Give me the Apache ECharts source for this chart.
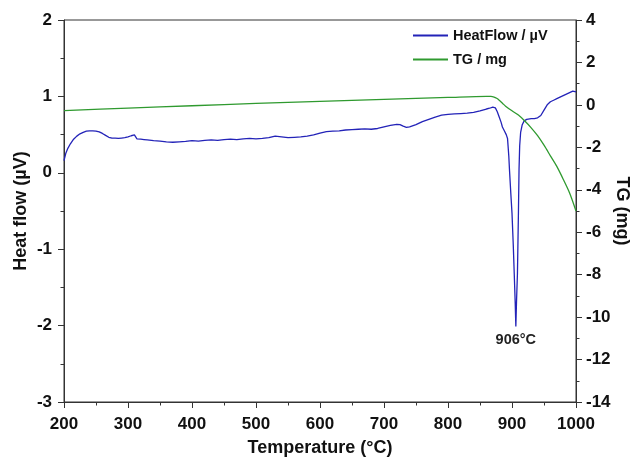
<!DOCTYPE html>
<html>
<head>
<meta charset="utf-8">
<script src="https://cdn.jsdelivr.net/npm/echarts@6/dist/echarts.min.js"></script>
<style>
html,body{margin:0;padding:0;background:#fff;}
#chart{width:633px;height:457px;}
</style>
</head>
<body>
<div id="chart"></div>
<script>
// Heat flow curve (temperature °C, µV)
const hfTemps = [200,203,206,210,215,220,225,230,235,240,245,250,255,260,265,270,275,280,285,290,295,300,305,310,313,314,320,325,330,340,350,360,370,380,390,400,410,420,430,440,450,460,470,480,490,500,510,520,530,540,550,560,570,580,590,600,610,620,630,640,650,660,670,680,690,700,710,720,725,730,735,740,750,760,770,780,790,800,810,820,830,840,850,860,865,870,874,877,880,883,885,888,891,893,895,896,898,900,902,903.5,905,906,907,908.5,910,911,912,913.5,916,919,923,926,930,935,940,945,950,955,960,965,970,975,980,985,990,995,1000];
const hfValues = [0.16,0.26,0.32,0.38,0.44,0.48,0.51,0.53,0.545,0.55,0.55,0.545,0.535,0.515,0.49,0.465,0.455,0.455,0.45,0.455,0.46,0.47,0.485,0.495,0.50,0.445,0.44,0.435,0.43,0.42,0.415,0.405,0.40,0.405,0.41,0.42,0.415,0.425,0.43,0.425,0.435,0.44,0.435,0.445,0.45,0.445,0.45,0.46,0.48,0.47,0.46,0.465,0.47,0.48,0.495,0.52,0.54,0.545,0.55,0.56,0.565,0.57,0.575,0.57,0.58,0.60,0.62,0.635,0.63,0.61,0.595,0.60,0.63,0.67,0.70,0.73,0.755,0.765,0.77,0.775,0.78,0.79,0.81,0.835,0.845,0.86,0.85,0.80,0.73,0.66,0.60,0.55,0.50,0.45,0.22,0.05,-0.25,-0.53,-0.95,-1.32,-1.70,-2.01,-1.70,-1.32,-0.55,0.05,0.35,0.53,0.63,0.68,0.70,0.70,0.71,0.71,0.72,0.75,0.82,0.89,0.93,0.95,0.97,0.99,1.01,1.03,1.05,1.07,1.06];

// TG curve (temperature °C, mg)
const tgTemps = [200,300,400,500,600,700,800,860,867,872,876,880,885,890,900,910,920,930,940,950,960,970,980,990,1000];
const tgValues = [-0.27,-0.15,-0.04,0.07,0.17,0.26,0.35,0.40,0.40,0.37,0.31,0.22,0.08,-0.06,-0.28,-0.48,-0.76,-1.08,-1.45,-1.9,-2.4,-2.9,-3.5,-4.15,-5.0];

const seriesNames = ['HeatFlow / µV', 'TG / mg'];
const peakTemp = 906;
const peakValue = -2.01;
const peakLabel = '906°C';

const xTitle = 'Temperature (°C)';
const yLeftTitle = 'Heat flow (µV)';
const yRightTitle = 'TG (mg)';

const hfData = hfTemps.map((t, i) => [t, hfValues[i]]);
const tgData = tgTemps.map((t, i) => [t, tgValues[i]]);

const FONT = 'Liberation Sans, Arial, sans-serif';
const axisCol = '#333';
const plain = v => String(v);
const tickLabel = {fontFamily: FONT, fontWeight: 'bold', fontSize: 17, color: '#111'};
const nameStyle = {fontFamily: FONT, fontWeight: 'bold', fontSize: 18, color: '#111'};

const chart = echarts.init(document.getElementById('chart'), null, {renderer: 'canvas'});
chart.setOption({
  backgroundColor: '#fff',
  animation: false,
  grid: {left: 64, right: 57, top: 20, bottom: 55, containLabel: false, outerBoundsMode: 'none',
    show: true, borderColor: axisCol, borderWidth: 1, backgroundColor: 'transparent'},
  legend: {
    data: seriesNames,
    orient: 'vertical',
    left: 408,
    top: 23,
    itemGap: 9,
    itemWidth: 35,
    itemHeight: 2,
    icon: 'rect',
    textStyle: {fontFamily: FONT, fontWeight: 'bold', fontSize: 14.5, color: '#111'}
  },
  xAxis: {
    type: 'value', min: 200, max: 1000, interval: 100,
    name: xTitle, nameLocation: 'middle', nameGap: 37, nameMoveOverlap: false,
    nameTextStyle: nameStyle,
    axisLine: {onZero: false, lineStyle: {color: axisCol, width: 1}},
    axisTick: {inside: false, length: 6, lineStyle: {color: axisCol}},
    minorTick: {show: true, splitNumber: 2, length: 3.5, lineStyle: {color: axisCol}},
    splitLine: {show: false},
    axisLabel: Object.assign({margin: 14, formatter: plain}, tickLabel)
  },
  yAxis: [{
    type: 'value', min: -3, max: 2, interval: 1, position: 'left',
    name: yLeftTitle, nameLocation: 'middle', nameGap: 34, nameRotate: 90, nameMoveOverlap: false,
    nameTextStyle: nameStyle,
    axisLine: {show: true, onZero: false, lineStyle: {color: axisCol, width: 1}},
    axisTick: {show: true, inside: false, length: 6, lineStyle: {color: axisCol}},
    minorTick: {show: true, splitNumber: 2, length: 3.5, lineStyle: {color: axisCol}},
    splitLine: {show: false},
    axisLabel: Object.assign({margin: 12, formatter: plain}, tickLabel)
  }, {
    type: 'value', min: -14, max: 4, interval: 2, position: 'right',
    name: yRightTitle, nameLocation: 'middle', nameGap: 37, nameRotate: -90, nameMoveOverlap: false,
    nameTextStyle: nameStyle,
    axisLine: {show: true, onZero: false, lineStyle: {color: axisCol, width: 1}},
    axisTick: {show: true, inside: false, length: 6, lineStyle: {color: axisCol}},
    minorTick: {show: true, splitNumber: 2, length: 3.5, lineStyle: {color: axisCol}},
    splitLine: {show: false},
    axisLabel: Object.assign({margin: 10, formatter: plain}, tickLabel)
  }],
  series: [{
    name: seriesNames[0], type: 'line', yAxisIndex: 0, data: hfData,
    showSymbol: false, symbol: 'none', smooth: false,
    lineStyle: {color: '#2323b8', width: 1.3}, itemStyle: {color: '#2323b8'},
    markPoint: {
      symbol: 'circle', symbolSize: 0, silent: true,
      data: [{coord: [peakTemp, peakValue], value: peakLabel}],
      label: {show: true, position: 'bottom', distance: 6, formatter: peakLabel,
        fontFamily: FONT, fontWeight: 'bold', fontSize: 14.5, color: '#222'}
    }
  }, {
    name: seriesNames[1], type: 'line', yAxisIndex: 1, data: tgData,
    showSymbol: false, symbol: 'none', smooth: 0.3,
    lineStyle: {color: '#2f9a2f', width: 1.3}, itemStyle: {color: '#2f9a2f'}
  }]
});
</script>
</body>
</html>
